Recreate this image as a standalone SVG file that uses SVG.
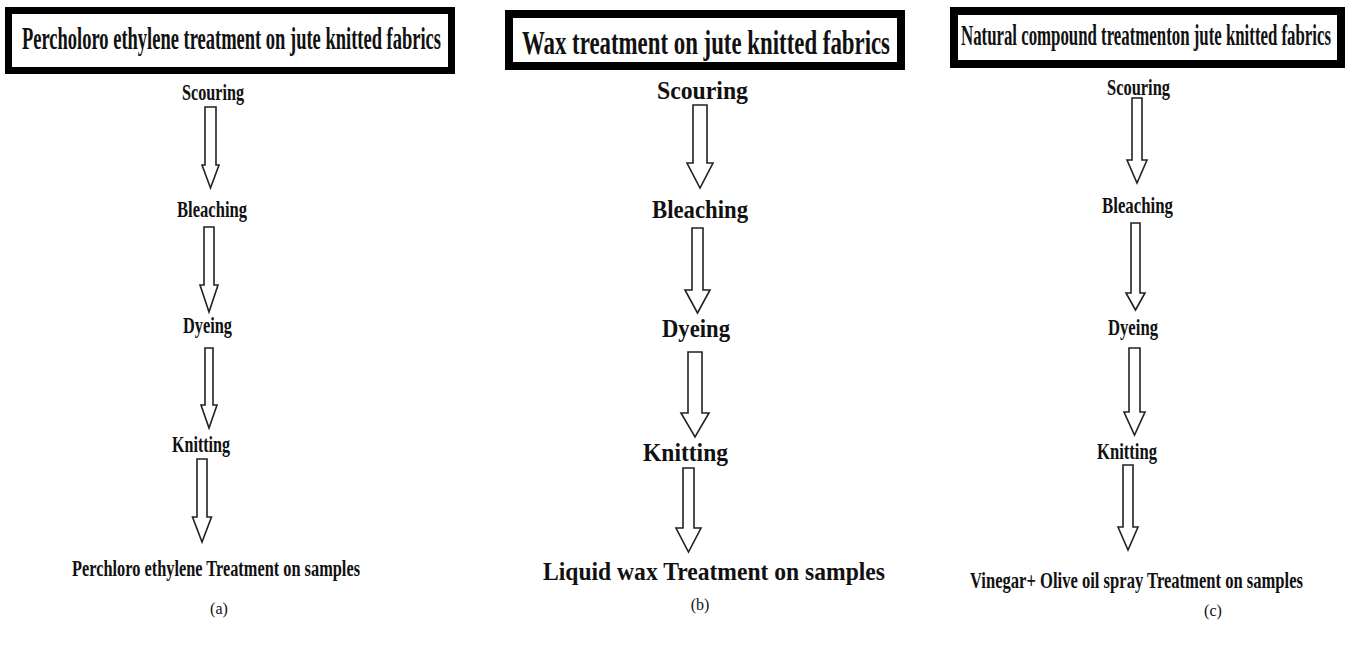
<svg xmlns="http://www.w3.org/2000/svg" width="1346" height="647" viewBox="0 0 1346 647">
<style>
.box{fill:#fff;stroke:#000}
.s{font-family:"Liberation Serif","Times New Roman",serif;font-weight:bold;fill:#111;text-anchor:start}
.lab{font-family:"Liberation Serif","Times New Roman",serif;font-size:16px;fill:#111;text-anchor:middle}
.arr{fill:#fff;stroke:#222;stroke-width:1.6;stroke-linejoin:miter}
</style>
<rect width="1346" height="647" fill="#fff"/>
<g id="panel-a">
<g id="a-title"><rect class="box" x="8.5" y="10.5" width="443" height="60" stroke-width="7"/>
<text class="s" x="22" y="49" font-size="32" textLength="419" lengthAdjust="spacingAndGlyphs">Percholoro ethylene treatment on jute knitted fabrics</text></g>
<g id="a-scouring"><text class="s" x="182" y="100" font-size="23" textLength="62" lengthAdjust="spacingAndGlyphs">Scouring</text></g>
<g id="a-bleaching"><text class="s" x="177" y="217" font-size="23" textLength="70" lengthAdjust="spacingAndGlyphs">Bleaching</text></g>
<g id="a-dyeing"><text class="s" x="183" y="333" font-size="23" textLength="49" lengthAdjust="spacingAndGlyphs">Dyeing</text></g>
<g id="a-knitting"><text class="s" x="172" y="452" font-size="23" textLength="58" lengthAdjust="spacingAndGlyphs">Knitting</text></g>
<g id="a-final"><text class="s" x="72" y="576" font-size="23" textLength="288" lengthAdjust="spacingAndGlyphs">Perchloro ethylene Treatment on samples</text></g>
<g id="a-label"><text class="lab" x="219" y="614">(a)</text></g>
</g>
<g id="panel-b">
<g id="b-title"><rect class="box" x="509" y="14" width="392" height="52" stroke-width="8"/>
<text class="s" x="522" y="54" font-size="34" textLength="368" lengthAdjust="spacingAndGlyphs">Wax treatment on jute knitted fabrics</text></g>
<g id="b-scouring"><text class="s" x="657" y="99" font-size="25" textLength="91" lengthAdjust="spacingAndGlyphs">Scouring</text></g>
<g id="b-bleaching"><text class="s" x="652" y="218" font-size="26" textLength="96" lengthAdjust="spacingAndGlyphs">Bleaching</text></g>
<g id="b-dyeing"><text class="s" x="662" y="337" font-size="26" textLength="68" lengthAdjust="spacingAndGlyphs">Dyeing</text></g>
<g id="b-knitting"><text class="s" x="643" y="461" font-size="26" textLength="85" lengthAdjust="spacingAndGlyphs">Knitting</text></g>
<g id="b-final"><text class="s" x="543" y="580" font-size="26" textLength="342" lengthAdjust="spacingAndGlyphs">Liquid wax Treatment on samples</text></g>
<g id="b-label"><text class="lab" x="700" y="610">(b)</text></g>
</g>
<g id="panel-c">
<g id="c-title"><rect class="box" x="954" y="11" width="387" height="53" stroke-width="8"/>
<text class="s" x="961" y="45" font-size="29" textLength="370" lengthAdjust="spacingAndGlyphs">Natural compound treatmenton jute knitted fabrics</text></g>
<g id="c-scouring"><text class="s" x="1107" y="95" font-size="23" textLength="63" lengthAdjust="spacingAndGlyphs">Scouring</text></g>
<g id="c-bleaching"><text class="s" x="1102" y="213" font-size="23" textLength="71" lengthAdjust="spacingAndGlyphs">Bleaching</text></g>
<g id="c-dyeing"><text class="s" x="1108" y="335" font-size="23" textLength="50" lengthAdjust="spacingAndGlyphs">Dyeing</text></g>
<g id="c-knitting"><text class="s" x="1097" y="459" font-size="23" textLength="60" lengthAdjust="spacingAndGlyphs">Knitting</text></g>
<g id="c-final"><text class="s" x="970" y="588" font-size="23" textLength="333" lengthAdjust="spacingAndGlyphs">Vinegar+ Olive oil spray Treatment on samples</text></g>
<g id="c-label"><text class="lab" x="1213" y="616">(c)</text></g>
</g>
<g id="connectors">
<path class="arr" d="M205,107 H216 V165 H219 L210.5,188 L202,165 H205 Z"/>
<path class="arr" d="M204,227 H214 V285 H218 L209,312 L200,285 H204 Z"/>
<path class="arr" d="M205,348 H213 V405 H217 L209,428 L201,405 H205 Z"/>
<path class="arr" d="M197,459 H207 V517 H211.5 L202,542 L192.5,517 H197 Z"/>
<path class="arr" d="M693,105 H707 V163 H713 L700,188 L687,163 H693 Z"/>
<path class="arr" d="M692,228 H703 V290 H710 L697.5,313 L685,290 H692 Z"/>
<path class="arr" d="M688,352 H702 V413 H709 L695,437 L681,413 H688 Z"/>
<path class="arr" d="M683,468 H694 V528 H701 L688.5,552 L676,528 H683 Z"/>
<path class="arr" d="M1132,98 H1142 V160 H1147 L1137,183 L1127,160 H1132 Z"/>
<path class="arr" d="M1131,223 H1140 V293 H1145 L1135.5,310 L1126,293 H1131 Z"/>
<path class="arr" d="M1129,348 H1140 V412 H1145 L1134.5,435 L1124,412 H1129 Z"/>
<path class="arr" d="M1123,465 H1133 V527 H1138 L1128,550 L1118,527 H1123 Z"/>
</g>
</svg>
